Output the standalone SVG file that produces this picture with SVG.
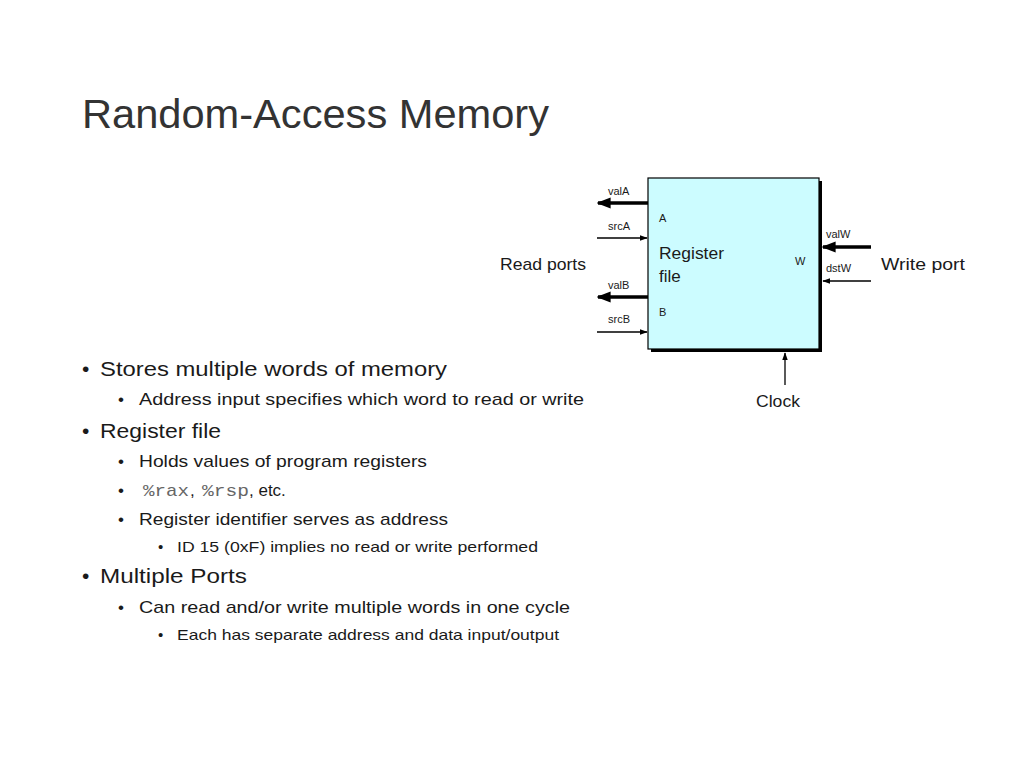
<svg xmlns="http://www.w3.org/2000/svg" width="1024" height="767" viewBox="0 0 1024 767">
<style>
text{font-family:"Liberation Sans",Arial,sans-serif;fill:#1a1a1a}
.l1{font-size:21px}
.l2{font-size:17px}
.l3{font-size:15px}
.sm{font-size:11px}
.mono{font-family:"Liberation Mono","Courier New",monospace;fill:#666}
.thick{stroke:#000;stroke-width:3.5;fill:none}
.thin{stroke:#000;stroke-width:1.3;fill:none}
</style>
<defs>
<marker id="ah" viewBox="0 0 10 10" refX="9" refY="5" markerWidth="4" markerHeight="4" orient="auto"><path d="M0,1 L10,5 L0,9 z" fill="#000"/></marker>
<marker id="ahs" viewBox="0 0 10 10" refX="9" refY="5" markerWidth="6" markerHeight="6" orient="auto"><path d="M0,1.5 L10,5 L0,8.5 z" fill="#000"/></marker>
</defs>
<rect width="1024" height="767" fill="#fff"/>
<text x="82" y="128" font-size="40" textLength="467" lengthAdjust="spacingAndGlyphs" style="fill:#333">Random-Access Memory</text>

<g id="regfile">
<rect x="651" y="181" width="171" height="171" fill="#000"/>
<rect x="648" y="178" width="171" height="171" fill="#ccfcff" stroke="#000" stroke-width="1.2"/>
<text x="659" y="222" class="sm">A</text>
<text x="659" y="259" font-size="17" textLength="65" lengthAdjust="spacingAndGlyphs">Register</text>
<text x="659" y="282" font-size="17">file</text>
<text x="659" y="316" class="sm">B</text>
<text x="795" y="265" class="sm">W</text>
</g>

<g id="connectors">
<line x1="648" y1="203" x2="598" y2="203" class="thick" marker-end="url(#ah)"/>
<line x1="597" y1="238" x2="647" y2="238" class="thin" marker-end="url(#ahs)"/>
<line x1="648" y1="297" x2="598" y2="297" class="thick" marker-end="url(#ah)"/>
<line x1="597" y1="332" x2="647" y2="332" class="thin" marker-end="url(#ahs)"/>
<line x1="871" y1="247" x2="823" y2="247" class="thick" marker-end="url(#ah)"/>
<line x1="871" y1="281" x2="823" y2="281" class="thin" marker-end="url(#ahs)"/>
<line x1="785" y1="385" x2="785" y2="353" class="thin" marker-end="url(#ahs)"/>
</g>

<g id="port-labels">
<text x="608" y="195" class="sm">valA</text>
<text x="608" y="230" class="sm">srcA</text>
<text x="608" y="289" class="sm">valB</text>
<text x="608" y="323" class="sm">srcB</text>
<text x="826" y="238" class="sm">valW</text>
<text x="826" y="272" class="sm">dstW</text>
<text x="500" y="270" font-size="17" textLength="86" lengthAdjust="spacingAndGlyphs">Read ports</text>
<text x="881" y="270" font-size="17" textLength="84" lengthAdjust="spacingAndGlyphs">Write port</text>
<text x="756" y="407" font-size="17" textLength="44" lengthAdjust="spacingAndGlyphs">Clock</text>
</g>

<g id="bullets">
<text x="82" y="376" class="l1">•</text>
<text x="100" y="376" class="l1" textLength="347" lengthAdjust="spacingAndGlyphs">Stores multiple words of memory</text>
<text x="118" y="405" class="l2">•</text>
<text x="139" y="405" class="l2" textLength="445" lengthAdjust="spacingAndGlyphs">Address input specifies which word to read or write</text>
<text x="82" y="438" class="l1">•</text>
<text x="100" y="438" class="l1" textLength="121" lengthAdjust="spacingAndGlyphs">Register file</text>
<text x="118" y="467" class="l2">•</text>
<text x="139" y="467" class="l2" textLength="288" lengthAdjust="spacingAndGlyphs">Holds values of program registers</text>
<text x="118" y="496" class="l2">•</text>
<text y="496" class="l2"><tspan x="143" class="mono" textLength="46" lengthAdjust="spacingAndGlyphs">%rax</tspan><tspan x="190">,</tspan><tspan x="202" class="mono" textLength="47" lengthAdjust="spacingAndGlyphs">%rsp</tspan><tspan x="249">, etc.</tspan></text>
<text x="118" y="525" class="l2">•</text>
<text x="139" y="525" class="l2" textLength="309" lengthAdjust="spacingAndGlyphs">Register identifier serves as address</text>
<text x="158" y="552" class="l3">•</text>
<text x="177" y="552" class="l3" textLength="361" lengthAdjust="spacingAndGlyphs">ID 15 (0xF) implies no read or write performed</text>
<text x="82" y="583" class="l1">•</text>
<text x="100" y="583" class="l1" textLength="147" lengthAdjust="spacingAndGlyphs">Multiple Ports</text>
<text x="118" y="613" class="l2">•</text>
<text x="139" y="613" class="l2" textLength="431" lengthAdjust="spacingAndGlyphs">Can read and/or write multiple words in one cycle</text>
<text x="158" y="640" class="l3">•</text>
<text x="177" y="640" class="l3" textLength="382" lengthAdjust="spacingAndGlyphs">Each has separate address and data input/output</text>
</g>
</svg>
